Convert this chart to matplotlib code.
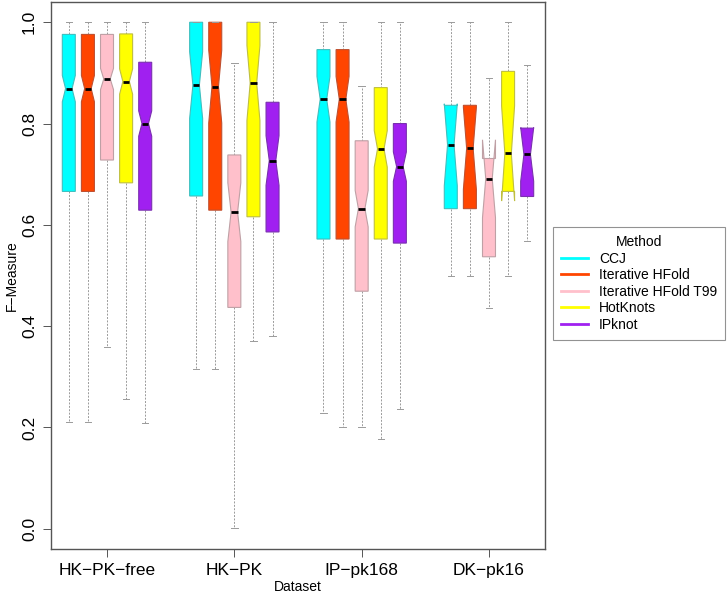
import matplotlib
matplotlib.use("Agg")
import matplotlib.pyplot as plt
from matplotlib.lines import Line2D
import numpy as np

plt.rcParams['font.family'] = ['Liberation Sans', 'DejaVu Sans']

datasets = ["HK\u2212PK\u2212free", "HK\u2212PK", "IP\u2212pk168", "DK\u2212pk16"]
methods = ["CCJ", "Iterative HFold", "Iterative HFold T99", "HotKnots", "IPknot"]
colors = ["#00FFFF", "#FF4500", "#FFC0CB", "#FFFF00", "#A020F0"]
edges = ["#40BFBF", "#BF5030", "#BFA0A5", "#BFBF40", "#7A30B0"]

# per dataset: rows = methods; columns = whislo, q1, med, q3, whishi, cilo, cihi
hk_pk_free = [
    [0.211, 0.666, 0.869, 0.976, 1.000, 0.843, 0.895],
    [0.211, 0.666, 0.869, 0.976, 1.000, 0.843, 0.895],
    [0.358, 0.728, 0.888, 0.976, 1.000, 0.867, 0.909],
    [0.257, 0.683, 0.883, 0.977, 1.000, 0.858, 0.908],
    [0.208, 0.629, 0.800, 0.921, 1.000, 0.775, 0.825],
]
hk_pk = [
    [0.316, 0.657, 0.876, 1.000, 1.000, 0.810, 0.942],
    [0.316, 0.629, 0.873, 1.000, 1.000, 0.801, 0.945],
    [0.001, 0.437, 0.625, 0.738, 0.919, 0.567, 0.683],
    [0.370, 0.616, 0.880, 1.000, 1.000, 0.806, 0.954],
    [0.380, 0.586, 0.727, 0.842, 1.000, 0.678, 0.776],
]
ip_pk168 = [
    [0.228, 0.572, 0.848, 0.946, 1.000, 0.803, 0.893],
    [0.200, 0.572, 0.848, 0.946, 1.000, 0.803, 0.893],
    [0.200, 0.469, 0.632, 0.766, 0.875, 0.596, 0.668],
    [0.177, 0.572, 0.750, 0.871, 1.000, 0.714, 0.786],
    [0.236, 0.564, 0.715, 0.800, 1.000, 0.686, 0.744],
]
dk_pk16 = [
    [0.499, 0.632, 0.758, 0.836, 1.000, 0.677, 0.839],
    [0.499, 0.632, 0.751, 0.836, 1.000, 0.670, 0.832],
    [0.436, 0.537, 0.691, 0.731, 0.889, 0.614, 0.768],
    [0.499, 0.666, 0.741, 0.903, 1.000, 0.647, 0.835],
    [0.568, 0.656, 0.739, 0.791, 0.915, 0.686, 0.792],
]
all_data = [hk_pk_free, hk_pk, ip_pk168, dk_pk16]

fig = plt.figure(figsize=(7.28, 5.97), dpi=100)
ax = fig.add_axes([51/728, 1-549/597, (545-51)/728, (549-2)/597])

offsets = [-0.30, -0.15, 0.0, 0.15, 0.30]
for gi, grp in enumerate(all_data):
    for mi, row in enumerate(grp):
        st = dict(whislo=row[0], q1=row[1], med=row[2], q3=row[3], whishi=row[4],
                  cilo=row[5], cihi=row[6], fliers=[])
        b = ax.bxp([st], positions=[gi + 1 + offsets[mi]], widths=0.102,
                   shownotches=True, patch_artist=True, showfliers=False,
                   boxprops=dict(facecolor=colors[mi], edgecolor=edges[mi], linewidth=0.8),
                   medianprops=dict(color='black', linewidth=2.0, solid_capstyle='butt'),
                   whiskerprops=dict(color='#9a9a9a', linewidth=0.7, linestyle=(0, (2, 1.5))),
                   capprops=dict(color='#9a9a9a', linewidth=0.7))
        for w in b['whiskers']:
            w.set_zorder(1)
        for bx in b['boxes']:
            bx.set_zorder(2)
        for m in b['medians']:
            m.set_zorder(3)

ax.set_xlim(1 - 56/127.3, 4 + 56/127.3)
ax.set_ylim(-0.04, 1.04)
ax.set_xticks([1, 2, 3, 4])
ax.set_xticklabels(datasets, fontsize=12.5)
yt = [0.0, 0.2, 0.4, 0.6, 0.8, 1.0]
ax.set_yticks(yt)
ax.set_yticklabels([f"{v:.1f}" for v in yt], fontsize=12.5, rotation=90, va='center')
ax.tick_params(axis='both', length=6, width=0.7, color='#555555', pad=4)
for s in ax.spines.values():
    s.set_color('#555555')
    s.set_linewidth(1.0)

fig.text(298/728, 1-587/597, "Dataset", ha='center', va='center', fontsize=10)
fig.text(12/728, 1-276/597, "F\u2212Measure", ha='center', va='center', fontsize=10, rotation=90)

handles = [Line2D([0], [0], color=c, lw=2) for c in colors]
leg = fig.legend(handles, methods, title="Method", loc='lower left',
                 bbox_to_anchor=(553/728, 1-340/597), fontsize=10, title_fontsize=10,
                 frameon=True, fancybox=False, edgecolor='#777777', handlelength=1.9,
                 handletextpad=0.8, labelspacing=0.18, borderpad=0.6, borderaxespad=0)
leg.get_frame().set_linewidth(0.8)

fig.savefig("out.png", dpi=100)
